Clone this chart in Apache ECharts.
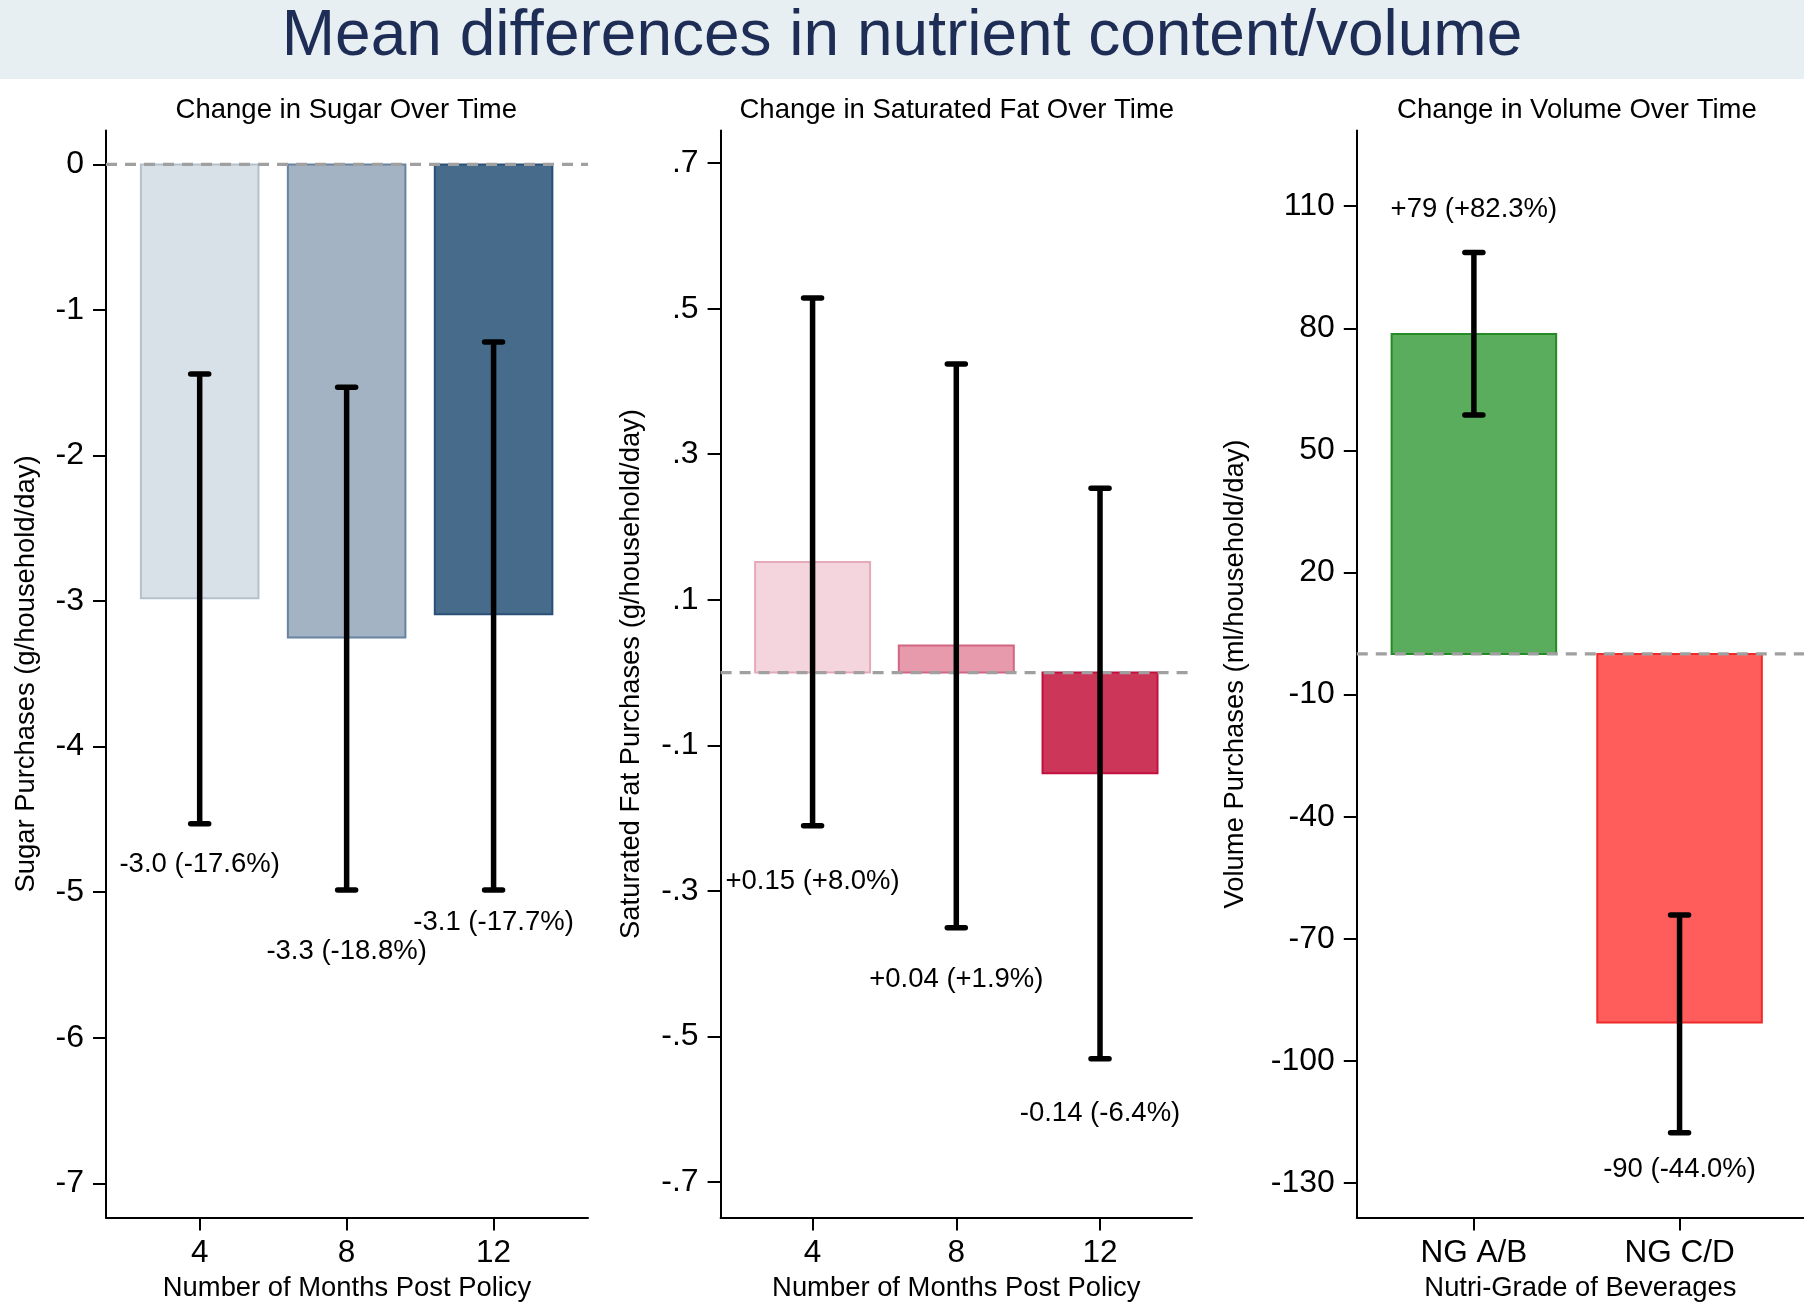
<!DOCTYPE html>
<html>
<head>
<meta charset="utf-8">
<script src="https://cdn.jsdelivr.net/npm/echarts@6/dist/echarts.min.js"></script>
<style>
  html, body { margin: 0; background: #fff; }
  #chart { width: 1804px; height: 1315px; }
</style>
</head>
<body>
<div id="chart"></div>
<script>
// sugar panel
const months = [4, 8, 12];
const sugarMean = [-2.98, -3.25, -3.09];
const sugarLow = [-4.53, -4.985, -4.985];
const sugarHigh = [-1.44, -1.53, -1.22];
const sugarText = ["-3.0 (-17.6%)", "-3.3 (-18.8%)", "-3.1 (-17.7%)"];
const sugarTextAt = [-4.81, -5.41, -5.21];
const sugarTicks = [0, -1, -2, -3, -4, -5, -6, -7];

// saturated fat panel
const fatMean = [0.152, 0.037, -0.1385];
const fatLow = [-0.2105, -0.3506, -0.5306];
const fatHigh = [0.5146, 0.424, 0.2534];
const fatText = ["+0.15 (+8.0%)", "+0.04 (+1.9%)", "-0.14 (-6.4%)"];
const fatTextAt = [-0.2865, -0.4217, -0.6058];
const fatTicks = [0.7, 0.5, 0.3, 0.1, -0.1, -0.3, -0.5, -0.7];

// volume panel
const grades = ["NG A/B", "NG C/D"];
const gradePos = [1, 2];
const volMean = [78.6, -90.5];
const volLow = [58.7, -117.6];
const volHigh = [98.6, -64.1];
const volText = ["+79 (+82.3%)", "-90 (-44.0%)"];
const volTextAt = [109.2, -126.5];
const volTicks = [110, 80, 50, 20, -10, -40, -70, -100, -130];

const FONT = "Liberation Sans";
const chart = echarts.init(document.getElementById("chart"));

const panels = [
  {
    grid: { left: 106, top: 130.4, width: 482, height: 1087.2 },
    x: { min: 1.45, max: 14.57, ticks: months, fmt: (v) => String(v), name: "Number of Months Post Policy" },
    y: { min: -7.236, max: 0.234, ticks: sugarTicks, fmt: (v) => String(v), name: "Sugar Purchases (g/household/day)", gap: 66 },
    title: "Change in Sugar Over Time", titleShift: -0.7,
    pos: months, mean: sugarMean, low: sugarLow, high: sugarHigh, text: sugarText, textAt: sugarTextAt,
    half: 1.6,
    fill: ["#d9e1e8", "#a3b3c3", "#476b8b"],
    stroke: ["#b4c1cd", "#6683a0", "#2a5078"],
  },
  {
    grid: { left: 720.6, top: 130.4, width: 471.4, height: 1087.2 },
    x: { min: 1.44, max: 14.56, ticks: months, fmt: (v) => String(v), name: "Number of Months Post Policy" },
    y: {
      min: -0.749, max: 0.745, ticks: fatTicks,
      fmt: (v) => String(v).replace("0.", "."),
      name: "Saturated Fat Purchases (g/household/day)", gap: 76,
    },
    title: "Change in Saturated Fat Over Time", titleShift: 0.5,
    pos: months, mean: fatMean, low: fatLow, high: fatHigh, text: fatText, textAt: fatTextAt,
    half: 1.6,
    fill: ["#f4d5de", "#e89aad", "#cc3759"],
    stroke: ["#e6a9ba", "#d26584", "#c2103e"],
  },
  {
    grid: { left: 1356.8, top: 130.4, width: 447.2, height: 1087.2 },
    x: { min: 0.4307, max: 2.605, ticks: gradePos, fmt: (v) => grades[Math.round(v) - 1], name: "Nutri-Grade of Beverages" },
    y: { min: -138.45, max: 128.6, ticks: volTicks, fmt: (v) => String(v), name: "Volume Purchases (ml/household/day)", gap: 108 },
    title: "Change in Volume Over Time", titleShift: -3.5,
    pos: gradePos, mean: volMean, low: volLow, high: volHigh, text: volText, textAt: volTextAt,
    half: 0.4,
    fill: ["#5aad5c", "#ff5c5c"],
    stroke: ["#258b25", "#ee2a2a"],
  },
];

const axisLine = { show: true, onZero: false, lineStyle: { color: "#000", width: 2 } };
const axisTick = { show: true, length: 13, lineStyle: { color: "#000", width: 2 } };

const option = {
  animation: false,
  backgroundColor: "#fff",
  textStyle: { fontFamily: FONT },
  grid: [],
  xAxis: [],
  yAxis: [],
  series: [],
  title: [],
  graphic: [
    { type: "rect", left: 0, top: 0, shape: { width: 1804, height: 79 }, style: { fill: "#e8eff3" }, z: -1 },
    {
      type: "text", x: 902, y: 37,
      style: { text: "Mean differences in nutrient content/volume", fill: "#1e2d55", font: `64px "${FONT}"`, align: "center", verticalAlign: "middle" },
    },
  ],
};

panels.forEach((p, i) => {
  option.grid.push(p.grid);
  option.title.push({
    text: p.title,
    left: p.grid.left + p.grid.width / 2 + p.titleShift,
    top: 96.5,
    padding: 0,
    textAlign: "center",
    textStyle: { fontFamily: FONT, fontSize: 27.5, fontWeight: "normal", color: "#000" },
  });
  option.xAxis.push({
    type: "value", gridIndex: i, min: p.x.min, max: p.x.max,
    splitLine: { show: false },
    axisLine, axisTick: { ...axisTick, customValues: p.x.ticks },
    axisLabel: { customValues: p.x.ticks, formatter: p.x.fmt, fontSize: 31.5, color: "#000", margin: 20, fontFamily: FONT },
    name: p.x.name, nameLocation: "middle", nameGap: 56,
    nameTextStyle: { fontSize: 27.4, color: "#000", fontFamily: FONT },
  });
  option.yAxis.push({
    type: "value", gridIndex: i, min: p.y.min, max: p.y.max,
    splitLine: { show: false },
    axisLine, axisTick: { ...axisTick, customValues: p.y.ticks },
    axisLabel: { customValues: p.y.ticks, formatter: p.y.fmt, fontSize: 32, color: "#000", margin: 22, fontFamily: FONT },
    name: p.y.name, nameLocation: "middle", nameGap: p.y.gap,
    nameTextStyle: { fontSize: 27.4, color: "#000", fontFamily: FONT },
  });

  // bars
  option.series.push({
    type: "custom", xAxisIndex: i, yAxisIndex: i, z: 2,
    data: p.pos.map((x, k) => [x, p.mean[k]]),
    renderItem: (params, api) => {
      const x = api.value(0);
      const v = api.value(1);
      const a = api.coord([x - p.half, v]);
      const b = api.coord([x + p.half, 0]);
      return {
        type: "rect",
        shape: { x: a[0], y: Math.min(a[1], b[1]), width: b[0] - a[0], height: Math.abs(b[1] - a[1]) },
        style: { fill: p.fill[params.dataIndex], stroke: p.stroke[params.dataIndex], lineWidth: 2 },
      };
    },
  });

  // zero reference line
  option.series.push({
    type: "line", xAxisIndex: i, yAxisIndex: i, z: 3,
    data: [[p.x.min, 0], [p.x.max, 0]],
    showSymbol: false, silent: true,
    lineStyle: { color: "#a0a0a0", width: 3.2, type: [11, 8] },
  });

  // confidence intervals
  option.series.push({
    type: "custom", xAxisIndex: i, yAxisIndex: i, z: 4,
    data: p.pos.map((x, k) => [x, p.low[k], p.high[k]]),
    renderItem: (params, api) => {
      const lo = api.coord([api.value(0), api.value(1)]);
      const hi = api.coord([api.value(0), api.value(2)]);
      const line = { stroke: "#000", lineWidth: 5.5, lineCap: "round" };
      return {
        type: "group",
        children: [
          { type: "line", shape: { x1: lo[0], y1: lo[1], x2: hi[0], y2: hi[1] }, style: { ...line, lineCap: "butt" } },
          { type: "line", shape: { x1: lo[0] - 9, y1: lo[1], x2: lo[0] + 9, y2: lo[1] }, style: line },
          { type: "line", shape: { x1: hi[0] - 9, y1: hi[1], x2: hi[0] + 9, y2: hi[1] }, style: line },
        ],
      };
    },
  });

  // effect labels
  option.series.push({
    type: "custom", xAxisIndex: i, yAxisIndex: i, z: 5,
    data: p.pos.map((x, k) => [x, p.textAt[k]]),
    renderItem: (params, api) => {
      const pt = api.coord([api.value(0), api.value(1)]);
      return {
        type: "text", x: pt[0], y: pt[1],
        style: { text: p.text[params.dataIndex], fill: "#000", font: `27.5px "${FONT}"`, align: "center", verticalAlign: "middle" },
      };
    },
  });
});

chart.setOption(option);
</script>
</body>
</html>
